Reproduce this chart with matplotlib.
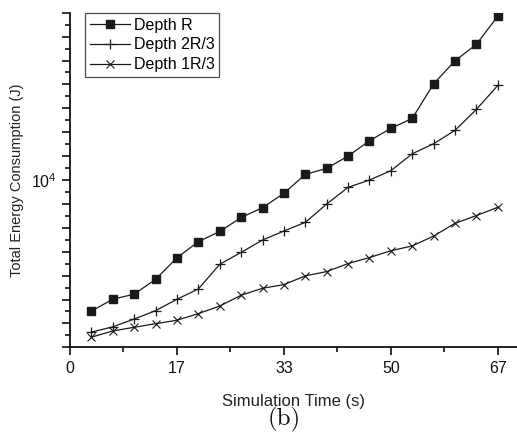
import matplotlib
matplotlib.use('Agg')
import matplotlib.pyplot as plt
import matplotlib.ticker as ticker
import numpy as np

plt.rcParams['font.family'] = ['Liberation Sans', 'DejaVu Sans']
plt.rcParams['mathtext.default'] = 'regular'

# simulation time (s)
time_s = [3.35, 6.7, 10.05, 13.4, 16.75, 20.1, 23.45, 26.8, 30.15, 33.5,
          36.85, 40.2, 43.55, 46.9, 50.25, 53.6, 56.95, 60.3, 63.65, 67.0]

# total energy consumption (J)
depth_r = [2830, 3170, 3330, 3840, 4730, 5520, 6090, 6970, 7660, 8800,
           10560, 11190, 12600, 14600, 16450, 18110, 25290, 31550, 36980, 48530]
depth_2r3 = [2310, 2430, 2620, 2840, 3170, 3500, 4440, 4980, 5610, 6120,
             6650, 7940, 9320, 10000, 10940, 12880, 14190, 16140, 19760, 24890]
depth_1r3 = [2200, 2335, 2420, 2505, 2590, 2760, 2970, 3295, 3525, 3650,
             3970, 4140, 4470, 4740, 5060, 5300, 5830, 6590, 7100, 7690]

series_labels = ['Depth R', 'Depth 2R/3', 'Depth 1R/3']

xtick_pos = [0, 16.75, 33.5, 50.25, 67]
xtick_labels = ['0', '17', '33', '50', '67']

fig = plt.figure(figsize=(5.17, 4.33), dpi=100)
ax = fig.add_axes([0.1354, 0.1979, 0.8646, 0.7727])

lc = '#1a1a1a'
ax.plot(time_s, depth_r, color=lc, lw=0.9, marker='s', ms=5.2,
        mfc=lc, mec=lc, label=series_labels[0])
ax.plot(time_s, depth_2r3, color=lc, lw=0.9, marker='+', ms=7,
        mew=0.9, label=series_labels[1])
ax.plot(time_s, depth_1r3, color=lc, lw=0.9, marker='x', ms=6,
        mew=0.8, label=series_labels[2])

ax.set_yscale('log')
ax.set_ylim(10 ** 3.3, 10 ** 4.7)
ax.set_xlim(0, 70)

# evenly spaced ticks in log space, only 10^4 labelled
major_y = [10 ** (3.3 + 0.1 * i) for i in range(15)]
minor_y = [10 ** (3.35 + 0.1 * i) for i in range(14)]
ax.yaxis.set_major_locator(ticker.FixedLocator(major_y))
ax.yaxis.set_minor_locator(ticker.FixedLocator(minor_y))
ax.yaxis.set_major_formatter(ticker.FuncFormatter(
    lambda v, p: '$10^{4}$' if abs(np.log10(v) - 4) < 1e-6 else ''))
ax.yaxis.set_minor_formatter(ticker.NullFormatter())

ax.xaxis.set_major_locator(ticker.FixedLocator(xtick_pos))
ax.xaxis.set_minor_locator(ticker.FixedLocator([8.375, 25.125, 41.875, 58.625]))
ax.set_xticklabels(xtick_labels)

for side in ['top', 'right']:
    ax.spines[side].set_visible(False)
for side in ['left', 'bottom']:
    ax.spines[side].set_linewidth(1.3)
    ax.spines[side].set_color('#111111')

ax.tick_params(axis='both', which='major', direction='out', length=6,
               width=1.2, labelsize=11.5, colors='#111111')
ax.tick_params(axis='both', which='minor', direction='out', length=3.5,
               width=1.2, colors='#111111')

ax.set_xlabel('Simulation Time (s)', fontsize=12, color='#222222', labelpad=13)
ax.set_ylabel('Total Energy Consumption (J)', fontsize=10.5, color='#222222',
              labelpad=5)

leg = ax.legend(loc='upper left', bbox_to_anchor=(0.0336, 1.0), fontsize=11.5,
                frameon=True, fancybox=False, edgecolor='#222222',
                handlelength=2.5, handletextpad=0.25, borderpad=0.3,
                labelspacing=0.3, borderaxespad=0.0)
leg.get_frame().set_linewidth(0.9)

fig.text(0.55, 0.032, '(b)', fontsize=18, family='cmr10', ha='center',
         va='center', color='#111111')

fig.savefig('out.png', dpi=100)
